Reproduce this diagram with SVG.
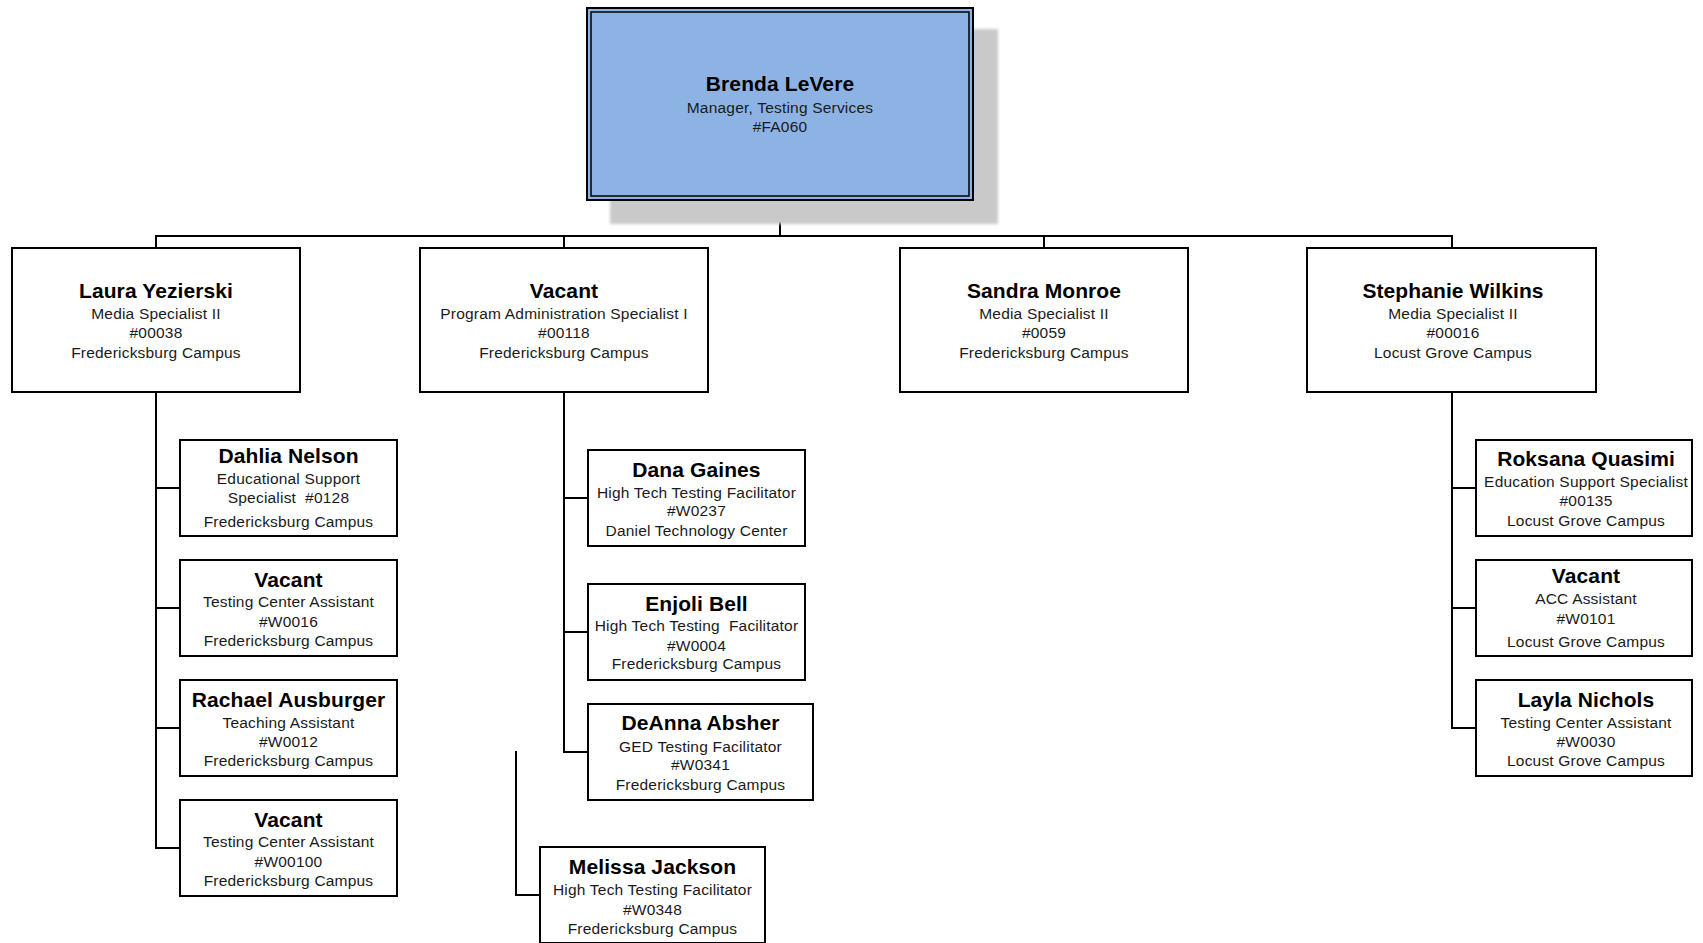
<svg xmlns="http://www.w3.org/2000/svg" width="1703" height="943" viewBox="0 0 1703 943">
<style>
.box{fill:#ffffff;stroke:#000000;stroke-width:2}
.n{font-family:"Liberation Sans",Arial,sans-serif;font-weight:bold;font-size:21px;fill:#000;text-anchor:middle;letter-spacing:0.1px}
.t{font-family:"Liberation Sans",Arial,sans-serif;font-size:15.5px;fill:#1a1a1a;text-anchor:middle;letter-spacing:0.2px;white-space:pre}
.c{fill:none;stroke:#000000;stroke-width:2}
</style>
<defs>
<filter id="blur" x="-5%" y="-5%" width="110%" height="110%"><feGaussianBlur stdDeviation="1.5"/></filter>
</defs>
<rect width="1703" height="943" fill="#ffffff"/>
<g id="connectors">
<path class="c" d="M780 200 V236"/>
<path class="c" d="M156 248 V236 H1452 V248"/>
<path class="c" d="M564 236 V248"/>
<path class="c" d="M1044 236 V248"/>
<path class="c" d="M156 392 V848 H180"/>
<path class="c" d="M156 488 H180 M156 608 H180 M156 728 H180"/>
<path class="c" d="M564 392 V752 H588"/>
<path class="c" d="M564 498 H588 M564 632 H588"/>
<path class="c" d="M516 751 V895 H540"/>
<path class="c" d="M1452 392 V728 H1476"/>
<path class="c" d="M1452 488 H1476 M1452 608 H1476"/>
</g>
<g id="brenda">
<rect x="610" y="29" width="388" height="195" fill="#c9c9c9" filter="url(#blur)"/>
<rect x="587" y="8" width="386" height="192" fill="#8db3e5" stroke="#000" stroke-width="2"/>
<rect x="591" y="12" width="378" height="184" fill="none" stroke="#000" stroke-width="1.5"/>
<text class="n" x="780" y="91">Brenda LeVere</text>
<text class="t" x="780" y="113">Manager, Testing Services</text>
<text class="t" x="780" y="131.5">#FA060</text>
</g>
<g id="laura">
<rect class="box" x="12" y="248" width="288" height="144"/>
<text class="n" x="156" y="297.5">Laura Yezierski</text>
<text class="t" x="156" y="318.5">Media Specialist II</text>
<text class="t" x="156" y="338">#00038</text>
<text class="t" x="156" y="357.5">Fredericksburg Campus</text>
</g>
<g id="vacant-pas">
<rect class="box" x="420" y="248" width="288" height="144"/>
<text class="n" x="564" y="297.5">Vacant</text>
<text class="t" x="564" y="318.5">Program Administration Specialist I</text>
<text class="t" x="564" y="338">#00118</text>
<text class="t" x="564" y="357.5">Fredericksburg Campus</text>
</g>
<g id="sandra">
<rect class="box" x="900" y="248" width="288" height="144"/>
<text class="n" x="1044" y="297.5">Sandra Monroe</text>
<text class="t" x="1044" y="318.5">Media Specialist II</text>
<text class="t" x="1044" y="338">#0059</text>
<text class="t" x="1044" y="357.5">Fredericksburg Campus</text>
</g>
<g id="stephanie">
<rect class="box" x="1307" y="248" width="289" height="144"/>
<text class="n" x="1453" y="297.5">Stephanie Wilkins</text>
<text class="t" x="1453" y="318.5">Media Specialist II</text>
<text class="t" x="1453" y="338">#00016</text>
<text class="t" x="1453" y="357.5">Locust Grove Campus</text>
</g>
<g id="dahlia">
<rect class="box" x="180" y="440" width="217" height="96"/>
<text class="n" x="288.5" y="463">Dahlia Nelson</text>
<text class="t" x="288.5" y="483.5">Educational Support</text>
<text class="t" x="288.5" y="503">Specialist  #0128</text>
<text class="t" x="288.5" y="526.5">Fredericksburg Campus</text>
</g>
<g id="vacant-tca1">
<rect class="box" x="180" y="560" width="217" height="96"/>
<text class="n" x="288.5" y="586.5">Vacant</text>
<text class="t" x="288.5" y="607">Testing Center Assistant</text>
<text class="t" x="288.5" y="626.5">#W0016</text>
<text class="t" x="288.5" y="646">Fredericksburg Campus</text>
</g>
<g id="rachael">
<rect class="box" x="180" y="680" width="217" height="96"/>
<text class="n" x="288.5" y="706.5">Rachael Ausburger</text>
<text class="t" x="288.5" y="727.5">Teaching Assistant</text>
<text class="t" x="288.5" y="746.5">#W0012</text>
<text class="t" x="288.5" y="766">Fredericksburg Campus</text>
</g>
<g id="vacant-tca2">
<rect class="box" x="180" y="800" width="217" height="96"/>
<text class="n" x="288.5" y="826.5">Vacant</text>
<text class="t" x="288.5" y="847">Testing Center Assistant</text>
<text class="t" x="288.5" y="866.5">#W00100</text>
<text class="t" x="288.5" y="886">Fredericksburg Campus</text>
</g>
<g id="dana">
<rect class="box" x="588" y="450" width="217" height="96"/>
<text class="n" x="696.5" y="476.5">Dana Gaines</text>
<text class="t" x="696.5" y="497.5">High Tech Testing Facilitator</text>
<text class="t" x="696.5" y="516">#W0237</text>
<text class="t" x="696.5" y="535.5">Daniel Technology Center</text>
</g>
<g id="enjoli">
<rect class="box" x="588" y="584" width="217" height="96"/>
<text class="n" x="696.5" y="610.5">Enjoli Bell</text>
<text class="t" x="696.5" y="631">High Tech Testing  Facilitator</text>
<text class="t" x="696.5" y="650.5">#W0004</text>
<text class="t" x="696.5" y="669">Fredericksburg Campus</text>
</g>
<g id="deanna">
<rect class="box" x="588" y="704" width="225" height="96"/>
<text class="n" x="700.5" y="730">DeAnna Absher</text>
<text class="t" x="700.5" y="751.5">GED Testing Facilitator</text>
<text class="t" x="700.5" y="770">#W0341</text>
<text class="t" x="700.5" y="789.5">Fredericksburg Campus</text>
</g>
<g id="melissa">
<rect class="box" x="540" y="847" width="225" height="96"/>
<text class="n" x="652.5" y="874">Melissa Jackson</text>
<text class="t" x="652.5" y="895">High Tech Testing Facilitator</text>
<text class="t" x="652.5" y="914.5">#W0348</text>
<text class="t" x="652.5" y="934">Fredericksburg Campus</text>
</g>
<g id="roksana">
<rect class="box" x="1476" y="440" width="216" height="96"/>
<text class="n" x="1586" y="466">Roksana Quasimi</text>
<text class="t" x="1586" y="486.5">Education Support Specialist</text>
<text class="t" x="1586" y="506">#00135</text>
<text class="t" x="1586" y="525.5">Locust Grove Campus</text>
</g>
<g id="vacant-acc">
<rect class="box" x="1476" y="560" width="216" height="96"/>
<text class="n" x="1586" y="583">Vacant</text>
<text class="t" x="1586" y="604">ACC Assistant</text>
<text class="t" x="1586" y="623.5">#W0101</text>
<text class="t" x="1586" y="647">Locust Grove Campus</text>
</g>
<g id="layla">
<rect class="box" x="1476" y="680" width="216" height="96"/>
<text class="n" x="1586" y="707">Layla Nichols</text>
<text class="t" x="1586" y="727.5">Testing Center Assistant</text>
<text class="t" x="1586" y="747">#W0030</text>
<text class="t" x="1586" y="766">Locust Grove Campus</text>
</g>
</svg>
